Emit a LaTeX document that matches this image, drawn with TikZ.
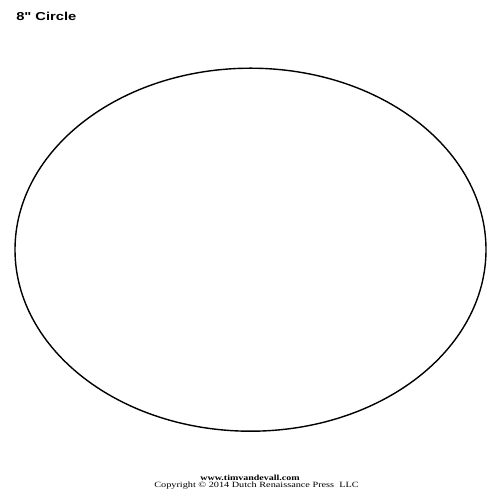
\documentclass[tikz,border=0pt]{standalone}
\usepackage{fontspec}
\setmainfont{Liberation Serif}
\setsansfont{Liberation Sans}
\begin{document}
\begin{tikzpicture}[x=1pt,y=1pt,
  title/.style={font=\sffamily\bfseries\fontsize{11.5}{13}\selectfont, anchor=west, inner sep=0pt, xscale=1.28, transform shape},
  credit/.style={font=\fontsize{8}{9}\selectfont, inner sep=0pt, xscale=1.28, transform shape},
  outline/.style={draw=black, line width=1.4pt}]
\useasboundingbox[fill=white] (0,0) rectangle (500,500);
\node[title] (t) at (16,483.5) {8\textquotedbl{} Circle};
\draw[outline] (250.5,250.3) ellipse [x radius=235.5, y radius=181.5];
\node[credit, font=\bfseries\fontsize{7.8}{9}\selectfont] (w) at (250,22.3) {www.timvandevall.com};
\node[credit] (c) at (256.5,14.7) {Copyright © 2014 Dutch Renaissance Press\ \ LLC};
\end{tikzpicture}
\end{document}
